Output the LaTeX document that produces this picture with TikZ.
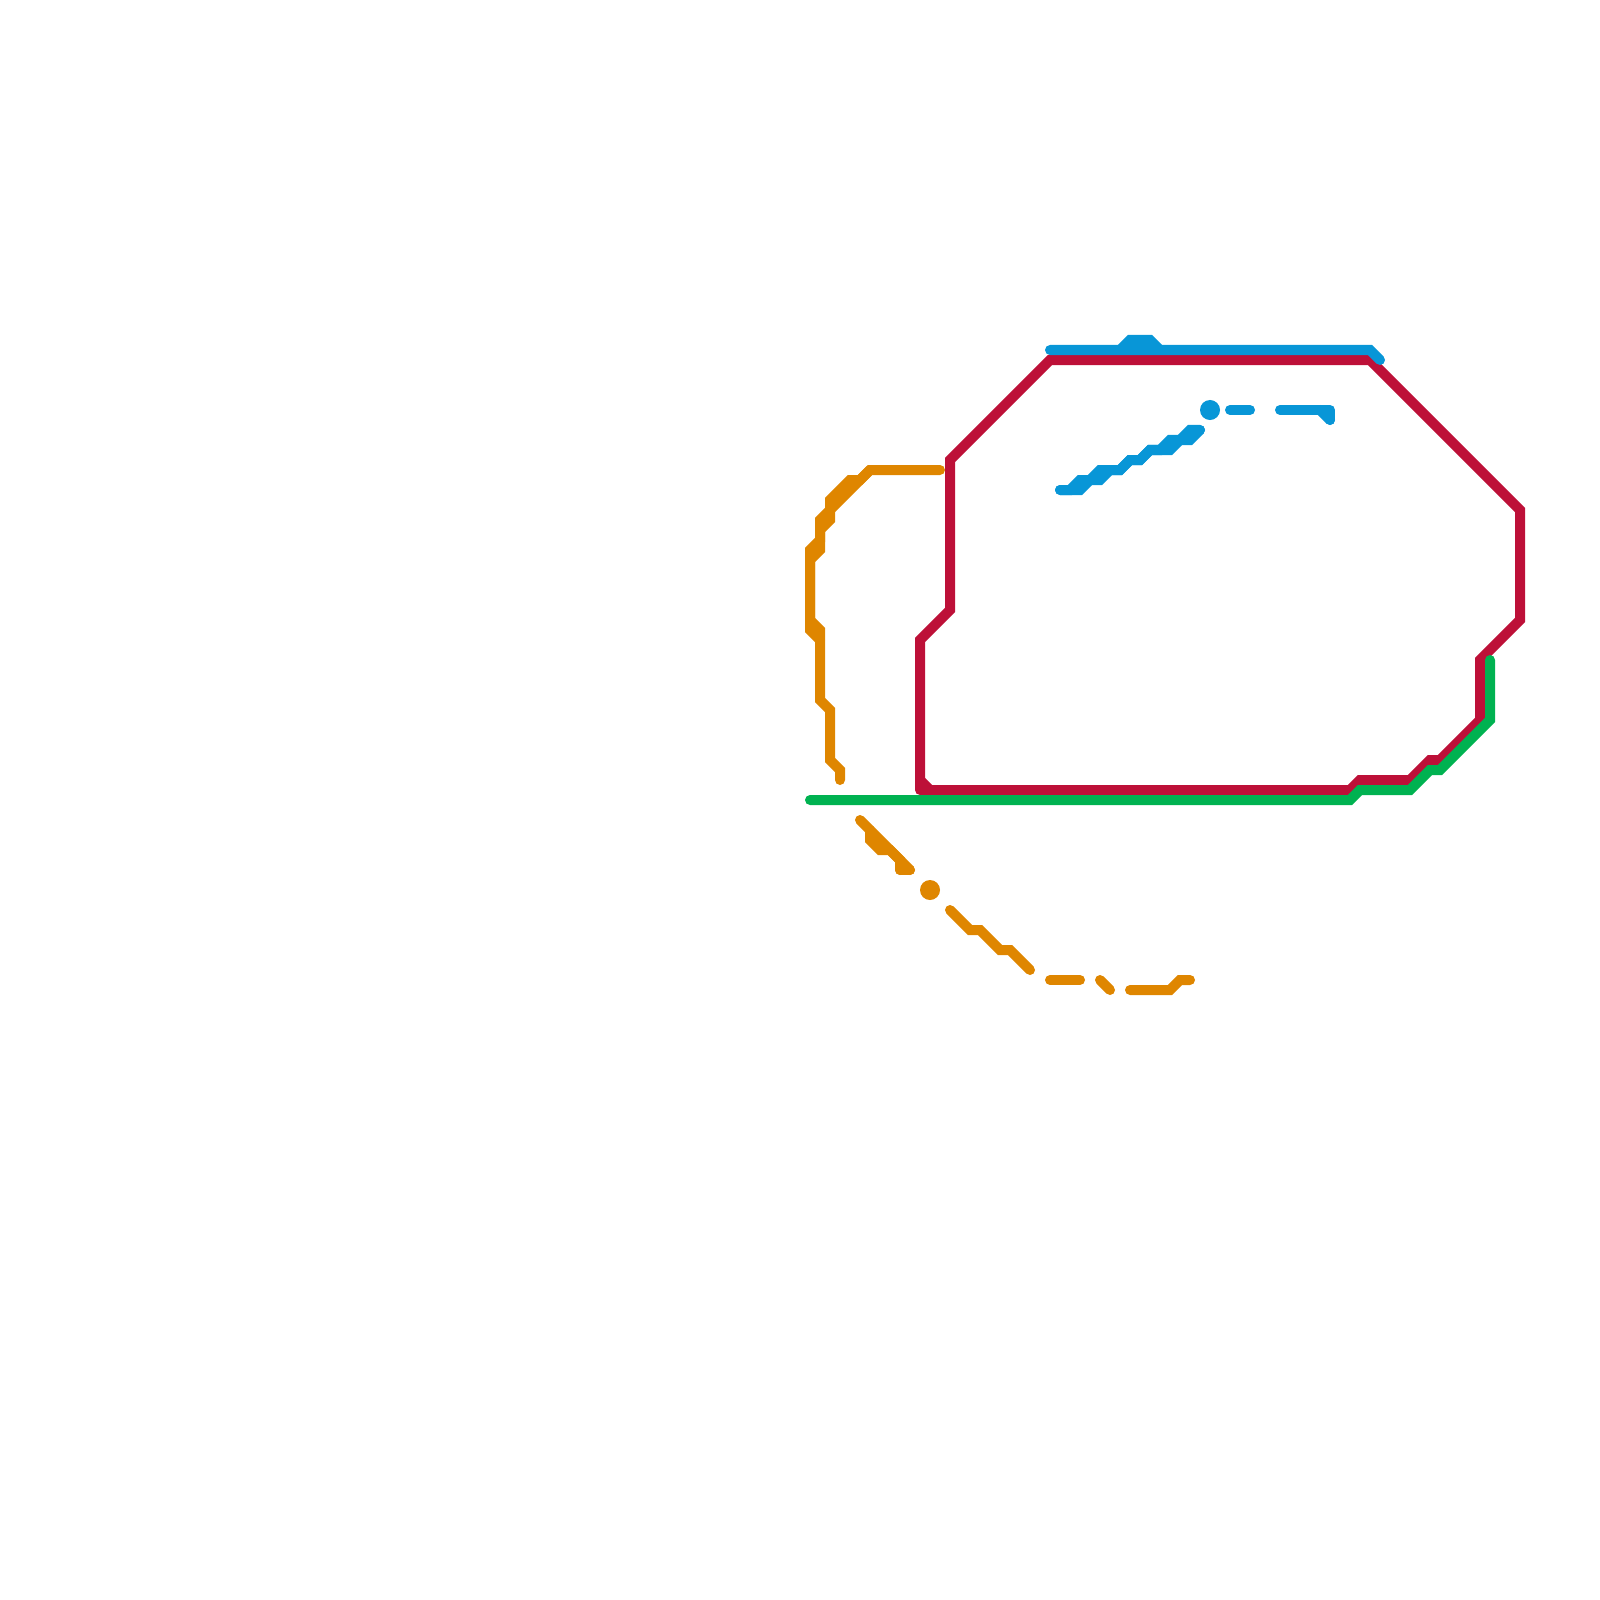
\documentclass[tikz,border=0pt]{standalone}
\usepackage{tikz}
\usepackage{xcolor}
\definecolor{redline}{HTML}{BD1038}
\definecolor{blueline}{HTML}{0896D7}
\definecolor{greenline}{HTML}{00B251}
\definecolor{orangeline}{HTML}{DF8600}
\tikzset{
  route/.style={line width=1mm, line cap=round, line join=miter, miter limit=4},
  rd/.style={route, draw=redline},
  bl/.style={route, draw=blueline},
  gr/.style={route, draw=greenline},
  og/.style={route, draw=orangeline},
  stopdot/.style={circle, draw=none, inner sep=0pt, minimum size=2mm},
}
\begin{document}
\begin{tikzpicture}[x=0.01cm, y=-0.01cm]
    \useasboundingbox (0,0) rectangle (1600,1600);
    % red loop
    \draw[rd] (920,790) -- (920,640) -- (950,610) -- (950,460) -- (1050,360) -- (1370,360) -- (1520,510) -- (1520,620) -- (1480,660) -- (1480,720) -- (1440,760) -- (1430,760) -- (1410,780) -- (1360,780) -- (1350,790) -- (920,790);
    \draw[rd] (920,780) -- (930,790);
    % orange, upper left
    \draw[og] (940,470) -- (870,470) -- (830,510) -- (830,520) -- (820,530) -- (820,550) -- (810,560) -- (810,620) -- (820,630) -- (820,700) -- (830,710) -- (830,760) -- (840,770) -- (840,780);
    \draw[og] (870,470) -- (860,480) -- (850,480) -- (830,500) -- (830,510) -- (820,520) -- (820,540) -- (810,550) -- (810,630) -- (820,640);
    % orange, lower
    \draw[og] (860,820) -- (910,870);
    \draw[og] (910,870) -- (900,870);
    \draw[og] (900,870) -- (900,860) -- (890,850) -- (880,850) -- (870,840) -- (870,830);
    \node[stopdot, fill=orangeline] (orangestop) at (930,890) {};
    \draw[og] (950,910) -- (970,930) -- (980,930) -- (1000,950) -- (1010,950) -- (1030,970);
    \draw[og] (1050,980) -- (1080,980);
    \draw[og] (1100,980) -- (1110,990);
    \draw[og] (1130,990) -- (1170,990) -- (1180,980) -- (1190,980);
    % green
    \draw[gr] (810,800) -- (1350,800) -- (1360,790) -- (1410,790) -- (1430,770) -- (1440,770) -- (1490,720) -- (1490,660);
    % blue
    \draw[bl] (1050,350) -- (1370,350) -- (1380,360);
    \draw[bl] (1120,350) -- (1130,340) -- (1150,340) -- (1160,350);
    \draw[bl] (1060,490) -- (1070,490) -- (1080,480) -- (1090,480) -- (1100,470) -- (1120,470) -- (1130,460) -- (1140,460) -- (1150,450) -- (1160,450) -- (1170,440) -- (1180,440) -- (1190,430) -- (1200,430);
    \draw[bl] (1060,490) -- (1080,490) -- (1090,480) -- (1100,480) -- (1110,470) -- (1120,470) -- (1130,460) -- (1140,460) -- (1150,450) -- (1170,450) -- (1180,440) -- (1190,440) -- (1200,430);
    \node[stopdot, fill=blueline] (bluestop) at (1210,410) {};
    \draw[bl] (1230,410) -- (1250,410);
    \draw[bl, line join=round] (1280,410) -- (1330,410) -- (1330,420);
    \draw[bl] (1320,410) -- (1330,420);
  \end{tikzpicture}
\end{document}
